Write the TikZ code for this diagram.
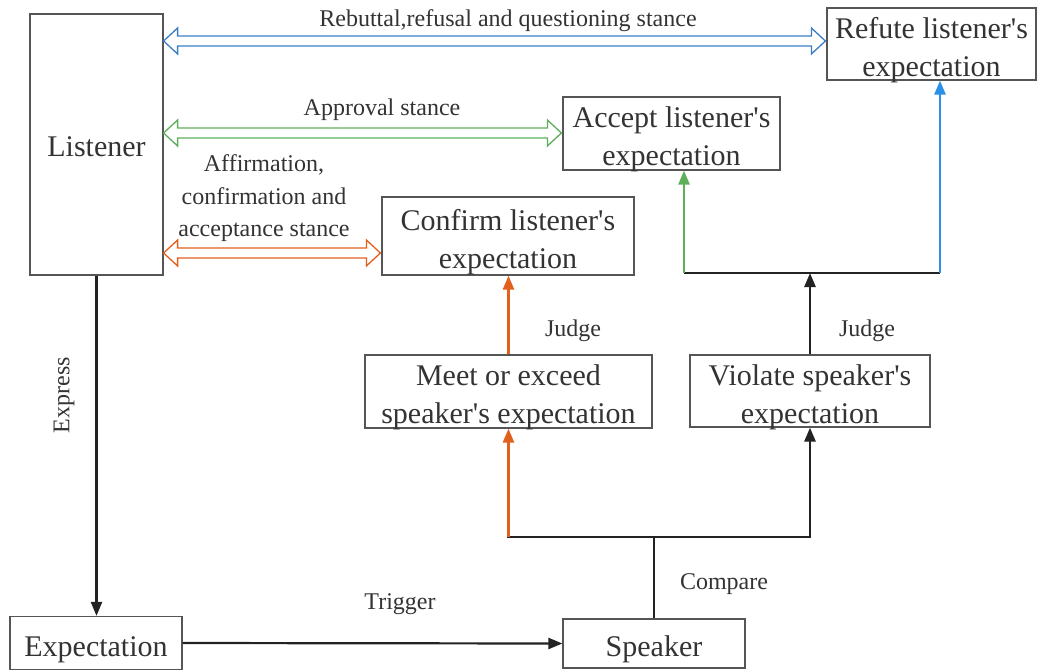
\documentclass[tikz,border=0pt]{standalone}
\usepackage{fontspec}
\setmainfont{LiberationSerif}[Extension=.ttf,UprightFont=*-Regular,BoldFont=*-Bold,ItalicFont=*-Italic,Ligatures=TeXOff]
\usetikzlibrary{arrows.meta,calc}
\definecolor{txt}{HTML}{333333}
\definecolor{bordr}{HTML}{555555}
\definecolor{ln}{HTML}{222222}
\definecolor{hblue}{HTML}{3A7FC4}
\definecolor{vblue}{HTML}{2A90E8}
\definecolor{hgreen}{HTML}{5DAF5A}
\definecolor{horange}{HTML}{E2601E}
\newcommand\hollowarrow[3]{%
  \draw[#3,line width=1.3pt,line join=miter] let \p1=(#1),\p2=(#2) in
    (\x1,\y1) -- (\x1+14pt,\y1+13pt) -- (\x1+14pt,\y1+5pt) -- (\x2-14pt,\y2+5pt)
    -- (\x2-14pt,\y2+13pt) -- (\x2,\y2) -- (\x2-14pt,\y2-13pt) -- (\x2-14pt,\y2-5pt)
    -- (\x1+14pt,\y1-5pt) -- (\x1+14pt,\y1-13pt) -- cycle;}
\tikzset{
  box/.style={draw=bordr,line width=1.2pt,inner sep=0pt,align=center,text=txt,
    font=\fontsize{30}{38}\selectfont},
  twoline/.style={box,text height=64pt,text depth=0pt},
  oneline/.style={box,text height=32pt,text depth=6pt},
  lbl/.style={text=txt,inner sep=0pt,align=center,font=\fontsize{24}{32.5}\selectfont},
  conn/.style={draw=ln,line width=2.6pt},
  tip/.style={-{Triangle[length=14pt,width=11pt]}},
}
\begin{document}
\begin{tikzpicture}[x=1pt,y=-1pt]
\useasboundingbox (0,0) rectangle (1041,670);
% boxes
\node[box,text height=24.5pt,text depth=0pt,minimum width=133pt,minimum height=261pt] (L) at (96.5,144.5) {Listener};
\node[twoline,minimum width=209pt,minimum height=72pt] (R) at (931.5,44) {Refute listener's\\expectation};
\node[twoline,minimum width=217pt,minimum height=73pt] (A) at (671.5,133.5) {Accept listener's\\expectation};
\node[twoline,minimum width=252pt,minimum height=78pt] (C) at (508,236) {Confirm listener's\\expectation};
\node[twoline,minimum width=287pt,minimum height=73pt] (M) at (508.5,391.5) {Meet or exceed\\speaker's expectation};
\node[twoline,minimum width=240pt,minimum height=72pt] (V) at (810,391) {Violate speaker's\\expectation};
\node[oneline,minimum width=172pt,minimum height=53pt] (E) at (96,643) {Expectation};
\node[oneline,minimum width=182pt,minimum height=49pt] (S) at (654,643.5) {Speaker};
% hollow double arrows
\coordinate (b1) at (L.east |- 0,41);
\coordinate (b2) at ([xshift=-1pt]R.west |- 0,41);
\coordinate (g1) at (L.east |- 0,133);
\coordinate (g2) at ([xshift=-1pt]A.west |- 0,133);
\coordinate (o1) at (L.east |- 0,253);
\coordinate (o2) at ([xshift=-1pt]C.west |- 0,253);
\hollowarrow{b1}{b2}{hblue}
\hollowarrow{g1}{g2}{hgreen}
\hollowarrow{o1}{o2}{horange}
\node[lbl] (lb) at (508,21) {Rebuttal,refusal and questioning stance};
\node[lbl] (lg) at (382,110) {Approval stance};
\node[lbl] (lo) at (264,198.5) {Affirmation,\\confirmation and\\acceptance stance};
% express & trigger
\draw[conn,line width=2.2pt,tip] (L.south) -- (L.south |- E.north);
\node[lbl,rotate=90] (lx) at (64,395) {Express};
\draw[conn,line width=2.2pt,tip] (E.east) -- (S.west);
\node[lbl] (lt) at (400,604) {Trigger};
% compare
\coordinate (cmp) at (S.north |- 0,537);
\coordinate (cl) at (M.south |- 0,537);
\coordinate (cr) at (V.south |- 0,537);
\draw[conn] (S.north) -- (cmp);
\draw[conn,line cap=rect] (cl) -- (cr);
\node[lbl] (lc) at (724,584) {Compare};
\draw[conn,draw=horange,tip] (cl) -- (M.south);
\draw[conn,tip] (cr) -- (V.south);
% judge
\draw[conn,draw=horange,tip] (M.north) -- (M.north |- C.south);
\node[lbl] (lj1) at (573,331) {Judge};
\coordinate (vj) at (V.north |- 0,273);
\coordinate (gj) at (684,273);
\coordinate (bj) at (940,273);
\draw[conn,tip] (V.north) -- (vj);
\draw[conn] (gj) -- (bj);
\draw[conn,draw=hgreen,tip] (gj) -- (gj |- A.south);
\draw[conn,draw=vblue,tip] (bj) -- (bj |- R.south);
\node[lbl] (lj2) at (867,331) {Judge};
\end{tikzpicture}
\end{document}
